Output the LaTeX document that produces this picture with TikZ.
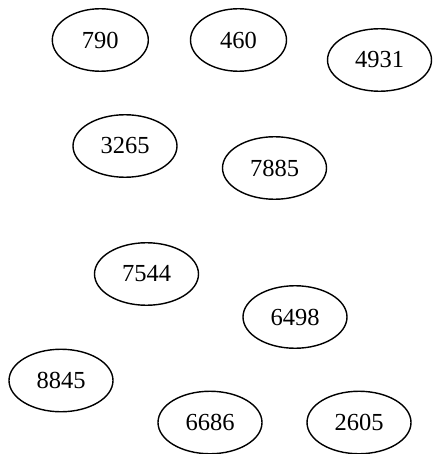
\documentclass[tikz,border=0pt]{standalone}
\usepackage{fontspec}
\setmainfont{Liberation Serif}
\usetikzlibrary{shapes.geometric}
\tikzset{
  num/.style={draw, ellipse, line width=1.4pt, inner sep=0pt, minimum height=62.5pt,
    font=\fontsize{24.5}{24.5}\selectfont},
  three/.style={num, minimum width=96pt},
  four/.style={num, minimum width=104pt}
}
\begin{document}
\begin{tikzpicture}[x=1pt,y=-1pt]
\useasboundingbox (0,0) rectangle (432,454);
\node[three] (n790) at (100.3,40) {790};
\node[three] (n460) at (238.5,40) {460};
\node[four] (n4931) at (379.5,60) {4931};
\node[four] (n3265) at (125,146) {3265};
\node[four] (n7885) at (274.5,168) {7885};
\node[four] (n7544) at (146.5,274) {7544};
\node[four] (n6498) at (295,317) {6498};
\node[four] (n8845) at (61,380.5) {8845};
\node[four] (n6686) at (210,422.5) {6686};
\node[four] (n2605) at (359,422.5) {2605};
\end{tikzpicture}
\end{document}
